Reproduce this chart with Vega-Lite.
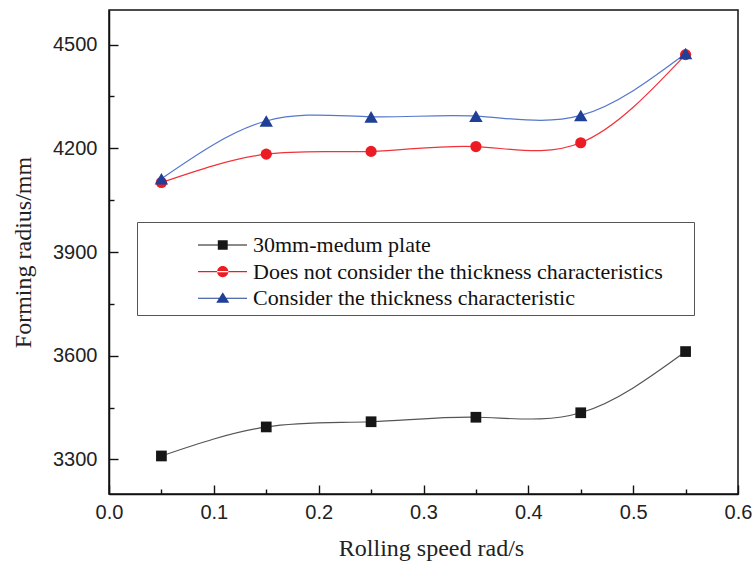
{
  "$schema": "https://vega.github.io/schema/vega-lite/v6.json",
  "width": 629,
  "height": 484,
  "autosize": {"type": "none"},
  "padding": {"left": 109, "top": 10, "right": 15, "bottom": 73},
  "background": "white",
  "config": {
    "view": {"stroke": "#111", "strokeWidth": 1.5},
    "axis": {
      "labelFont": "Liberation Sans",
      "labelFontSize": 20,
      "labelColor": "#222",
      "titleFont": "Liberation Serif",
      "titleFontSize": 24,
      "titleFontWeight": "normal",
      "titleColor": "#222",
      "domainColor": "#111",
      "domainWidth": 1.5,
      "tickColor": "#111",
      "tickWidth": 1.4,
      "ticks": true,
      "grid": false
    }
  },
  "data": {
    "values": [
      {"speed": 0.05, "radius": 3310, "series": "30mm-medum plate"},
      {"speed": 0.15, "radius": 3394, "series": "30mm-medum plate"},
      {"speed": 0.25, "radius": 3409, "series": "30mm-medum plate"},
      {"speed": 0.35, "radius": 3422, "series": "30mm-medum plate"},
      {"speed": 0.45, "radius": 3435, "series": "30mm-medum plate"},
      {"speed": 0.55, "radius": 3612, "series": "30mm-medum plate"},
      {"speed": 0.05, "radius": 4101, "series": "Does not consider the thickness characteristics"},
      {"speed": 0.15, "radius": 4183, "series": "Does not consider the thickness characteristics"},
      {"speed": 0.25, "radius": 4191, "series": "Does not consider the thickness characteristics"},
      {"speed": 0.35, "radius": 4205, "series": "Does not consider the thickness characteristics"},
      {"speed": 0.45, "radius": 4216, "series": "Does not consider the thickness characteristics"},
      {"speed": 0.55, "radius": 4471, "series": "Does not consider the thickness characteristics"},
      {"speed": 0.05, "radius": 4112, "series": "Consider the thickness characteristic"},
      {"speed": 0.15, "radius": 4279, "series": "Consider the thickness characteristic"},
      {"speed": 0.25, "radius": 4291, "series": "Consider the thickness characteristic"},
      {"speed": 0.35, "radius": 4293, "series": "Consider the thickness characteristic"},
      {"speed": 0.45, "radius": 4295, "series": "Consider the thickness characteristic"},
      {"speed": 0.55, "radius": 4474, "series": "Consider the thickness characteristic"}
    ]
  },
  "encoding": {
    "x": {
      "field": "speed",
      "type": "quantitative",
      "scale": {"domain": [0, 0.6], "nice": false, "zero": false},
      "axis": {
        "title": "Rolling speed rad/s",
        "titleX": 322,
        "values": [0, 0.05, 0.1, 0.15, 0.2, 0.25, 0.3, 0.35, 0.4, 0.45, 0.5, 0.55, 0.6],
        "labelExpr": "round(datum.value*100) % 10 === 0 ? format(datum.value, '.1f') : ''",
        "tickSize": {"condition": {"test": "round(datum.value*100) % 10 !== 0", "value": -5}, "value": -9},
        "labelPadding": 17,
        "titlePadding": 14,
        "labelFlush": false
      }
    },
    "y": {
      "field": "radius",
      "type": "quantitative",
      "scale": {"domain": [3200, 4600], "nice": false, "zero": false},
      "axis": {
        "title": "Forming radius/mm",
        "values": [3300, 3450, 3600, 3750, 3900, 4050, 4200, 4350, 4500],
        "labelExpr": "datum.value % 300 === 0 ? datum.label : ''",
        "format": "d",
        "tickSize": {"condition": {"test": "datum.value % 300 !== 0", "value": -5}, "value": -9},
        "labelPadding": 21,
        "titlePadding": 17,
        "labelFlush": false
      }
    }
  },
  "layer": [
    {
      "mark": {"type": "line", "interpolate": "natural", "strokeWidth": 1.2},
      "encoding": {
        "stroke": {
          "field": "series",
          "type": "nominal",
          "scale": {"range": ["#555555", "#5577cc", "#f0323a"]},
          "legend": null
        },
        "detail": {"field": "series"}
      }
    },
    {
      "transform": [{"filter": "datum.series === '30mm-medum plate'"}],
      "mark": {"type": "point", "shape": "square", "filled": true, "opacity": 1, "size": 115, "strokeWidth": 0},
      "encoding": {
        "fill": {
          "field": "series",
          "type": "nominal",
          "scale": {
            "domain": ["30mm-medum plate", "Does not consider the thickness characteristics", "Consider the thickness characteristic"],
            "range": ["#161616", "#ec1c24", "#1f4096"]
          },
          "legend": {
            "title": " ",
            "titleFontSize": 1,
            "titlePadding": 6,
            "orient": "none",
            "legendX": 28,
            "legendY": 212,
            "padding": 5,
            "strokeColor": "#555",
            "fillColor": "white",
            "labelFont": "Liberation Serif",
            "labelFontSize": 22,
            "labelColor": "#111",
            "labelOffset": 89,
            "labelLimit": 700,
            "rowPadding": 4.6,
            "symbolSize": 81,
            "symbolStrokeWidth": 0,
            "symbolType": {"expr": "(datum.value === '30mm-medum plate' ? 'M10,-0.12H20.9V0.12H10Z M14.4,-1.05H16.6V1.05H14.4Z' : datum.value === 'Does not consider the thickness characteristics' ? 'M10,-0.12H20.9V0.12H10Z M14.25,0A1.25,1.25 0 1,0 16.75,0A1.25,1.25 0 1,0 14.25,0Z' : 'M10,-0.12H20.9V0.12H10Z M15.5,-1.35L16.95,1.0L14.05,1.0Z') + ' M119,0'"}
          }
        }
      }
    },
    {
      "transform": [{"filter": "datum.series === 'Does not consider the thickness characteristics'"}],
      "mark": {"type": "point", "shape": "circle", "filled": true, "opacity": 1, "size": 125, "strokeWidth": 0},
      "encoding": {
        "fill": {"field": "series", "type": "nominal"}
      }
    },
    {
      "transform": [{"filter": "datum.series === 'Consider the thickness characteristic'"}],
      "mark": {"type": "point", "shape": "triangle-up", "filled": true, "opacity": 1, "size": 180, "strokeWidth": 0},
      "encoding": {
        "fill": {"field": "series", "type": "nominal"}
      }
    }
  ]
}
